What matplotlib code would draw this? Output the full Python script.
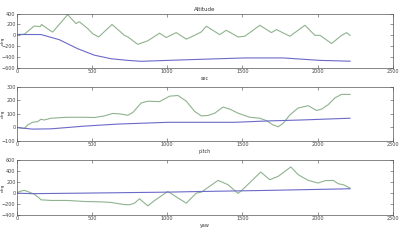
import matplotlib
matplotlib.use("Agg")
import matplotlib.pyplot as plt

# Altitude
alt_gx = [0, 49, 115, 155, 164, 204, 238, 338, 393, 415, 471, 504, 544, 633, 715, 738, 804, 871, 949, 993, 1060, 1127, 1182,
          1227, 1260, 1349, 1393, 1471, 1516, 1616, 1693, 1727, 1816, 1916, 1982, 2016, 2093, 2160, 2193, 2216]
alt_gy = [15, 20, 170, 160, 200, 120, 60, 380, 215, 250, 125, 30, -30, 200, 0, -30, -165, -100, 40, -40, 50, -70, 0,
          63, 167, 13, 93, -30, -17, 185, 50, 105, -17, 185, 0, 0, -150, 0, 50, 0]
alt_bx = [0, 160, 282, 404, 516, 627, 738, 827, 1004, 1227, 1516, 1771, 2016, 2216]
alt_by = [15, 15, -80, -245, -365, -430, -460, -477, -460, -440, -415, -415, -460, -475]

# Pitch
pit_gx = [0, 49, 71, 104, 138, 160, 182, 227, 338, 449, 516, 582, 638, 682, 738, 771, 827, 871, 949, 1016, 1071, 1127, 1182,
          1227, 1271, 1316, 1371, 1416, 1471, 1549, 1616, 1660, 1705, 1738, 1771, 1816, 1871, 1938, 1993, 2027, 2071, 2116, 2160, 2216]
pit_gy = [0, -8, 18, 38, 43, 60, 55, 68, 75, 75, 73, 85, 103, 100, 90, 110, 180, 193, 190, 230, 235, 193, 118,
          85, 88, 105, 150, 135, 105, 75, 68, 50, 18, 5, 30, 93, 143, 160, 125, 135, 168, 218, 243, 243]
pit_bx = [0, 104, 227, 449, 671, 1004, 1227, 1449, 1671, 1893, 2216]
pit_by = [0, -12, -10, 10, 25, 38, 38, 38, 48, 55, 68]

# Yaw
yaw_gx = [0, 16, 49, 71, 115, 149, 160, 227, 338, 449, 560, 627, 715, 749, 782, 816, 871, 916, 1004, 1049, 1127, 1193,
          1227, 1338, 1405, 1471, 1493, 1622, 1682, 1738, 1822, 1871, 1938, 2004, 2049, 2104, 2138, 2171, 2216]
yaw_gy = [0, 30, 50, 30, -18, -92, -123, -135, -135, -154, -160, -172, -210, -215, -185, -105, -234, -135, 30, -50, -185, 0,
          18, 234, 154, -6, 43, 388, 246, 308, 480, 338, 234, 185, 228, 234, 172, 154, 92]
yaw_bx = [0, 100, 449, 1004, 1227, 1671, 2216]
yaw_by = [0, -10, 0, 18, 30, 50, 80]

xticks = [0, 500, 1000, 1500, 2000, 2500]
green = "#8fb38f"
blue = "#6a6ac8"

fig = plt.figure(figsize=(4.02, 2.42), dpi=100)
fig.patch.set_facecolor("white")

panels = [
    (0.719, alt_gx, alt_gy, alt_bx, alt_by, (-600, 400), [-600, -400, -200, 0, 200, 400], "sec", "Altitude"),
    (0.417, pit_gx, pit_gy, pit_bx, pit_by, (-100, 300), [-100, 0, 100, 200, 300], "pitch", None),
    (0.112, yaw_gx, yaw_gy, yaw_bx, yaw_by, (-400, 600), [-400, -200, 0, 200, 400, 600], "yaw", None),
]

for bottom, gx, gy, bx, by, ylim, yt, xl, title in panels:
    ax = fig.add_axes([0.042, bottom, 0.935, 0.225])
    ax.plot(gx, gy, color=green, lw=0.8)
    ax.plot(bx, by, color=blue, lw=0.8)
    ax.set_xlim(0, 2500)
    ax.set_ylim(*ylim)
    ax.set_xticks(xticks)
    ax.set_yticks(yt)
    ax.tick_params(direction="in", top=True, right=True, labelsize=3.5, length=2, width=0.4, pad=1, colors="#444444")
    for s in ax.spines.values():
        s.set_linewidth(0.5)
        s.set_color("#555555")
    ax.set_xlabel(xl, fontsize=3.5, labelpad=1, color="#333333")
    ax.set_ylabel("deg", fontsize=3.2, color="#333333")
    ax.yaxis.set_label_coords(-0.033, 0.5)
    if title:
        ax.set_title(title, fontsize=4, pad=2, color="#333333")

fig.savefig("out.png", dpi=100, facecolor="white")
